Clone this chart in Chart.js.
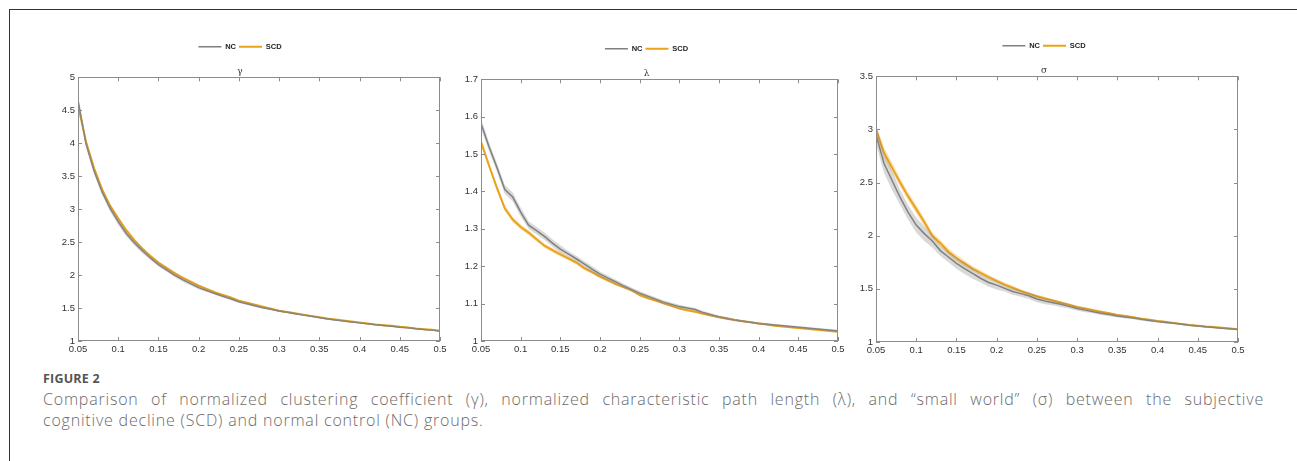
<!DOCTYPE html>
<html>
<head>
<meta charset="utf-8">
<script src="https://cdn.jsdelivr.net/npm/chart.js@4/dist/chart.umd.min.js"></script>
<style>
  html, body { margin: 0; padding: 0; background: #fff; }
  body { width: 1297px; height: 461px; position: relative; overflow: hidden; font-family: "Open Sans", sans-serif; }
  .frame { position: absolute; left: 9px; top: 9px; width: 1300px; height: 460px; border-left: 1.5px solid #333; border-top: 1.5px solid #333; }
  .panel { position: absolute; }
  .fig { position: absolute; left: 43px; top: 370px; font-size: 12.5px; font-weight: 700; color: #555; letter-spacing: 0.2px; }
  .cap { position: absolute; left: 43px; top: 389px; width: 1221px; font-size: 16px; line-height: 21px; color: #6a6a6a; font-weight: 300; letter-spacing: 0.8px; }
  .cap .l1 { display: block; text-align: justify; text-align-last: justify; white-space: nowrap; }
</style>
</head>
<body>
<div class="frame"></div>
<div class="panel" style="left:40px;top:30px;width:410px;height:325px"><canvas id="gamma"></canvas></div>
<div class="panel" style="left:455px;top:32px;width:393px;height:323px"><canvas id="lambda"></canvas></div>
<div class="panel" style="left:850px;top:29px;width:398px;height:327px"><canvas id="sigma"></canvas></div>
<div class="fig">FIGURE 2</div>
<div class="cap"><span class="l1">Comparison of normalized clustering coefficient (γ), normalized characteristic path length (λ), and “small world” (σ) between the subjective</span>cognitive decline (SCD) and normal control (NC) groups.</div>

<script>
// sparsity thresholds
const thresholds = [0.05, 0.06, 0.07, 0.08, 0.09, 0.10, 0.11, 0.12, 0.13, 0.14, 0.15, 0.16, 0.17, 0.18, 0.19, 0.20,
  0.21, 0.22, 0.23, 0.24, 0.25, 0.26, 0.27, 0.28, 0.29, 0.30, 0.31, 0.32, 0.33, 0.34, 0.35, 0.36, 0.37, 0.38, 0.39, 0.40,
  0.41, 0.42, 0.43, 0.44, 0.45, 0.46, 0.47, 0.48, 0.49, 0.50]
const xTicks = [0.05, 0.1, 0.15, 0.2, 0.25, 0.3, 0.35, 0.4, 0.45, 0.5]

// gamma
const gammaNC = [4.65, 3.99, 3.58, 3.26, 3.01, 2.81, 2.63, 2.49, 2.37, 2.26, 2.16, 2.08, 2.00, 1.93, 1.87, 1.81,
  1.765, 1.72, 1.68, 1.64, 1.595, 1.565, 1.535, 1.505, 1.48, 1.455, 1.435, 1.415, 1.395, 1.375, 1.355, 1.335, 1.32, 1.305, 1.29, 1.275,
  1.26, 1.245, 1.235, 1.225, 1.21, 1.2, 1.185, 1.175, 1.165, 1.15]
const gammaSCD = [4.58, 4.02, 3.62, 3.30, 3.05, 2.86, 2.68, 2.53, 2.40, 2.29, 2.19, 2.11, 2.03, 1.96, 1.90, 1.84,
  1.79, 1.74, 1.70, 1.66, 1.61, 1.58, 1.55, 1.52, 1.49, 1.46, 1.44, 1.42, 1.40, 1.38, 1.36, 1.34, 1.325, 1.31, 1.295, 1.28,
  1.265, 1.25, 1.24, 1.23, 1.215, 1.205, 1.19, 1.18, 1.17, 1.155]
const gammaNCsd = [0.08, 0.06, 0.05, 0.05, 0.05, 0.05, 0.04, 0.04, 0.04, 0.03, 0.03, 0.03, 0.03, 0.03, 0.03, 0.03,
  0.02, 0.02, 0.02, 0.02, 0.02, 0.02, 0.02, 0.015, 0.015, 0.015, 0.015, 0.015, 0.012, 0.012, 0.012, 0.012, 0.01, 0.01, 0.01, 0.01,
  0.01, 0.01, 0.01, 0.008, 0.008, 0.008, 0.008, 0.008, 0.008, 0.008]
const gammaSCDsd = [0.05, 0.04, 0.04, 0.03, 0.03, 0.03, 0.03, 0.03, 0.025, 0.025, 0.02, 0.02, 0.02, 0.02, 0.02, 0.02,
  0.015, 0.015, 0.015, 0.015, 0.015, 0.012, 0.012, 0.012, 0.012, 0.01, 0.01, 0.01, 0.01, 0.01, 0.008, 0.008, 0.008, 0.008, 0.008, 0.008,
  0.006, 0.006, 0.006, 0.006, 0.006, 0.006, 0.006, 0.006, 0.006, 0.006]

// lambda
const lambdaNC = [1.582, 1.52, 1.465, 1.405, 1.385, 1.345, 1.31, 1.295, 1.28, 1.262, 1.246, 1.233, 1.22, 1.206, 1.192, 1.179,
  1.168, 1.158, 1.147, 1.137, 1.128, 1.12, 1.112, 1.104, 1.098, 1.092, 1.088, 1.084, 1.076, 1.07, 1.064, 1.06, 1.056, 1.053, 1.05, 1.047,
  1.045, 1.043, 1.041, 1.039, 1.037, 1.035, 1.033, 1.031, 1.029, 1.027]
const lambdaSCD = [1.533, 1.47, 1.41, 1.355, 1.325, 1.305, 1.29, 1.272, 1.255, 1.243, 1.232, 1.221, 1.21, 1.195, 1.184, 1.172,
  1.162, 1.152, 1.144, 1.136, 1.123, 1.115, 1.108, 1.101, 1.094, 1.087, 1.082, 1.078, 1.073, 1.068, 1.064, 1.06, 1.056, 1.053, 1.05, 1.047,
  1.044, 1.041, 1.039, 1.037, 1.035, 1.033, 1.031, 1.029, 1.027, 1.025]
const lambdaNCsd = [0.014, 0.012, 0.012, 0.012, 0.012, 0.012, 0.01, 0.01, 0.01, 0.01, 0.01, 0.008, 0.008, 0.008, 0.008, 0.007,
  0.007, 0.006, 0.006, 0.006, 0.005, 0.005, 0.005, 0.005, 0.005, 0.005, 0.004, 0.004, 0.004, 0.004, 0.004, 0.004, 0.003, 0.003, 0.003, 0.003,
  0.003, 0.003, 0.003, 0.003, 0.003, 0.003, 0.003, 0.003, 0.003, 0.003]
const lambdaSCDsd = [0.01, 0.008, 0.008, 0.008, 0.007, 0.007, 0.007, 0.006, 0.006, 0.006, 0.006, 0.005, 0.005, 0.005, 0.005, 0.005,
  0.004, 0.004, 0.004, 0.004, 0.004, 0.004, 0.003, 0.003, 0.003, 0.003, 0.003, 0.003, 0.003, 0.003, 0.003, 0.003, 0.002, 0.002, 0.002, 0.002,
  0.002, 0.002, 0.002, 0.002, 0.002, 0.002, 0.002, 0.002, 0.002, 0.002]

// sigma
const sigmaNC = [2.95, 2.68, 2.52, 2.36, 2.22, 2.1, 2.02, 1.95, 1.86, 1.8, 1.74, 1.69, 1.645, 1.6, 1.56, 1.535,
  1.505, 1.475, 1.455, 1.435, 1.405, 1.385, 1.37, 1.355, 1.335, 1.315, 1.3, 1.285, 1.27, 1.258, 1.245, 1.235, 1.225, 1.213, 1.203, 1.193,
  1.184, 1.176, 1.167, 1.158, 1.15, 1.143, 1.137, 1.13, 1.124, 1.118]
const sigmaSCD = [3.0, 2.78, 2.64, 2.5, 2.37, 2.25, 2.13, 2.0, 1.93, 1.85, 1.79, 1.74, 1.69, 1.65, 1.61, 1.575,
  1.54, 1.51, 1.48, 1.455, 1.43, 1.41, 1.39, 1.37, 1.35, 1.33, 1.315, 1.3, 1.285, 1.27, 1.255, 1.245, 1.232, 1.22, 1.21, 1.198,
  1.19, 1.18, 1.17, 1.16, 1.152, 1.145, 1.14, 1.133, 1.127, 1.12]
const sigmaNCsd = [0.09, 0.09, 0.09, 0.07, 0.07, 0.07, 0.07, 0.06, 0.05, 0.05, 0.05, 0.05, 0.05, 0.04, 0.04, 0.04,
  0.03, 0.03, 0.03, 0.03, 0.03, 0.03, 0.025, 0.025, 0.02, 0.02, 0.02, 0.015, 0.015, 0.015, 0.015, 0.015, 0.012, 0.012, 0.012, 0.01,
  0.01, 0.01, 0.01, 0.01, 0.01, 0.008, 0.008, 0.008, 0.008, 0.008]
const sigmaSCDsd = [0.05, 0.05, 0.05, 0.04, 0.04, 0.04, 0.04, 0.03, 0.03, 0.03, 0.03, 0.03, 0.025, 0.025, 0.02, 0.02,
  0.02, 0.02, 0.015, 0.015, 0.015, 0.015, 0.012, 0.012, 0.012, 0.01, 0.01, 0.01, 0.01, 0.01, 0.008, 0.008, 0.008, 0.008, 0.008, 0.008,
  0.006, 0.006, 0.006, 0.006, 0.006, 0.006, 0.006, 0.006, 0.006, 0.006]

const NC_COLOR = '#808080'
const SCD_COLOR = '#eaa31a'
const FONT = '"Liberation Sans", Arial, sans-serif'

const pts = (vals, sd, sign) => thresholds.map((x, i) => ({ x: x, y: vals[i] + sign * (sd ? sd[i] : 0) }))
const fmt = v => String(Number(Number(v).toFixed(2)))

// MATLAB style box with inward ticks
const boxPlugin = {
  id: 'box',
  afterDatasetsDraw(chart) {
    const { ctx, chartArea: a, scales: { x, y } } = chart
    ctx.save()
    ctx.strokeStyle = '#8c8c8c'
    ctx.lineWidth = 1
    ctx.strokeRect(Math.round(a.left) + 0.5, Math.round(a.top) + 0.5, Math.round(a.width) - 1, Math.round(a.height) - 1)
    ctx.beginPath()
    x.ticks.forEach(t => {
      const px = Math.round(x.getPixelForValue(t.value)) + 0.5
      ctx.moveTo(px, a.bottom); ctx.lineTo(px, a.bottom - 4)
      ctx.moveTo(px, a.top); ctx.lineTo(px, a.top + 4)
    })
    y.ticks.forEach(t => {
      const py = Math.round(y.getPixelForValue(t.value)) + 0.5
      ctx.moveTo(a.left, py); ctx.lineTo(a.left + 4, py)
      ctx.moveTo(a.right, py); ctx.lineTo(a.right - 4, py)
    })
    ctx.stroke()
    ctx.restore()
  }
}

function createChart(id, title, nc, ncSd, scd, scdSd, yMin, yMax, yStep, yWidth) {
  const yTicks = []
  for (let v = yMin; v <= yMax + 1e-9; v += yStep) yTicks.push(Number(v.toFixed(2)))

  return new Chart(document.getElementById(id), {
    type: 'line',
    data: {
      datasets: [
        { label: 'ncLo', data: pts(nc, ncSd, -1), borderWidth: 0, pointRadius: 0, fill: false },
        { label: 'ncHi', data: pts(nc, ncSd, 1), borderWidth: 0, pointRadius: 0, fill: '-1', backgroundColor: 'rgba(128,128,128,0.3)' },
        { label: 'scdLo', data: pts(scd, scdSd, -1), borderWidth: 0, pointRadius: 0, fill: false },
        { label: 'scdHi', data: pts(scd, scdSd, 1), borderWidth: 0, pointRadius: 0, fill: '-1', backgroundColor: 'rgba(234,163,26,0.3)' },
        { label: 'NC', data: pts(nc, null, 0), borderColor: NC_COLOR, backgroundColor: NC_COLOR, borderWidth: 1.5, pointRadius: 0, fill: false },
        { label: 'SCD', data: pts(scd, null, 0), borderColor: SCD_COLOR, backgroundColor: SCD_COLOR, borderWidth: 2, pointRadius: 0, fill: false }
      ]
    },
    options: {
      responsive: true,
      maintainAspectRatio: false,
      animation: false,
      layout: { padding: { top: 10, right: 10, left: 0, bottom: 0 } },
      plugins: {
        legend: {
          position: 'top',
          labels: {
            filter: item => item.text === 'NC' || item.text === 'SCD',
            boxWidth: 23,
            boxHeight: 0,
            padding: 3,
            color: '#222',
            font: { family: FONT, size: 7.5, weight: 'bold' }
          }
        },
        title: {
          display: true,
          text: title,
          weight: 500,
          color: '#333',
          font: { family: '"DejaVu Serif", serif', size: 9, weight: 'normal' },
          padding: { top: 6, bottom: 0 }
        },
        tooltip: { enabled: false }
      },
      scales: {
        x: {
          type: 'linear',
          min: thresholds[0],
          max: thresholds[thresholds.length - 1],
          afterBuildTicks: s => { s.ticks = xTicks.map(v => ({ value: v })) },
          afterFit: s => { s.height = 14 },
          grid: { display: false, drawTicks: false },
          border: { display: false },
          ticks: { color: '#333', padding: 3, maxRotation: 0, autoSkip: false, font: { family: FONT, size: 9.5 }, callback: fmt }
        },
        y: {
          min: yMin,
          max: yMax,
          afterBuildTicks: s => { s.ticks = yTicks.map(v => ({ value: v })) },
          afterFit: s => { s.width = yWidth },
          grid: { display: false, drawTicks: false },
          border: { display: false },
          ticks: { color: '#333', padding: 3, font: { family: FONT, size: 9.5 }, callback: fmt }
        }
      }
    },
    plugins: [boxPlugin]
  })
}

createChart('gamma', 'γ', gammaNC, gammaNCsd, gammaSCD, gammaSCDsd, 1, 5, 0.5, 38)
createChart('lambda', 'λ', lambdaNC, lambdaNCsd, lambdaSCD, lambdaSCDsd, 1, 1.7, 0.1, 26)
createChart('sigma', 'σ', sigmaNC, sigmaNCsd, sigmaSCD, sigmaSCDsd, 1, 3.5, 0.5, 26)
</script>
</body>
</html>
